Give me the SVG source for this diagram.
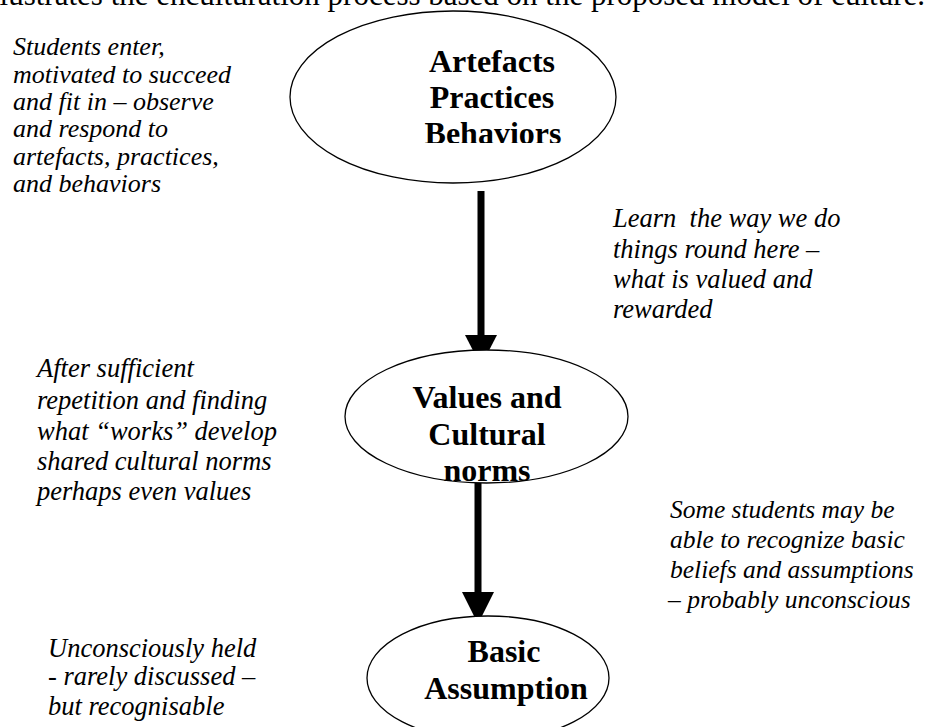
<svg xmlns="http://www.w3.org/2000/svg" width="932" height="727" viewBox="0 0 932 727">
<style>
.node{fill:#fff;stroke:#000;stroke-width:1.3}
.nt{font-family:"Liberation Serif","Times New Roman",serif;font-weight:bold;font-size:32px;fill:#000;text-anchor:middle}
.note{font-family:"Liberation Serif","Times New Roman",serif;font-style:italic;font-size:26.5px;fill:#000}
.note.sm{font-size:25.5px}
.note.t1{font-size:26px}
.cap{font-family:"Liberation Serif","Times New Roman",serif;font-size:31px;fill:#000}
.shaft{fill:#000}
</style>
<defs>
<clipPath id="c1"><rect x="300" y="30" width="320" height="113"/></clipPath>
<clipPath id="c2"><rect x="350" y="360" width="280" height="123"/></clipPath>
</defs>
<rect width="932" height="727" fill="#fff"/>
<text class="cap" x="925" y="5" text-anchor="end">illustrates the enculturation process based on the proposed model of culture.</text>

<g id="connectors">
<rect class="shaft" x="477.5" y="191" width="7" height="146"/>
<polygon class="shaft" points="465,335 497,335 481,366"/>
<rect class="shaft" x="474.5" y="483" width="7" height="111"/>
<polygon class="shaft" points="462,592 494,592 478,624"/>
</g>

<g id="node-artefacts">
<ellipse class="node" cx="453" cy="97" rx="163" ry="86"/>
<g clip-path="url(#c1)">
<text class="nt" x="492" y="72">Artefacts</text>
<text class="nt" x="492" y="108">Practices</text>
<text class="nt" x="493" y="144">Behaviors</text>
</g>
</g>

<g id="node-values">
<ellipse class="node" cx="486.5" cy="416.5" rx="141.5" ry="66.5"/>
<g clip-path="url(#c2)">
<text class="nt" x="487" y="408">Values and</text>
<text class="nt" x="487" y="445">Cultural</text>
<text class="nt" x="487" y="481">norms</text>
</g>
</g>

<g id="node-basic">
<ellipse class="node" cx="488" cy="678" rx="121" ry="62"/>
<text class="nt" x="504" y="662">Basic</text>
<text class="nt" x="506" y="699">Assumption</text>
</g>

<g id="notes">
<text class="note t1"><tspan x="13" y="55">Students enter,</tspan><tspan x="13" y="82.5">motivated to succeed</tspan><tspan x="13" y="110">and fit in – observe</tspan><tspan x="13" y="137">and respond to</tspan><tspan x="13" y="164.5">artefacts, practices,</tspan><tspan x="13" y="192">and behaviors</tspan></text>
<text class="note" xml:space="preserve"><tspan x="613" y="227">Learn  the way we do</tspan><tspan x="613" y="258">things round here –</tspan><tspan x="613" y="288">what is valued and</tspan><tspan x="613" y="318">rewarded</tspan></text>
<text class="note"><tspan x="37" y="377">After sufficient</tspan><tspan x="37" y="409">repetition and finding</tspan><tspan x="37" y="440">what “works” develop</tspan><tspan x="37" y="470">shared cultural norms</tspan><tspan x="37" y="500">perhaps even values</tspan></text>
<text class="note sm"><tspan x="670" y="518">Some students may be</tspan><tspan x="670" y="548">able to recognize basic</tspan><tspan x="670" y="578">beliefs and assumptions</tspan><tspan x="668" y="608">– probably unconscious</tspan></text>
<text class="note"><tspan x="48" y="657">Unconsciously held</tspan><tspan x="48" y="685">- rarely discussed –</tspan><tspan x="48" y="715">but recognisable</tspan></text>
</g>
</svg>
